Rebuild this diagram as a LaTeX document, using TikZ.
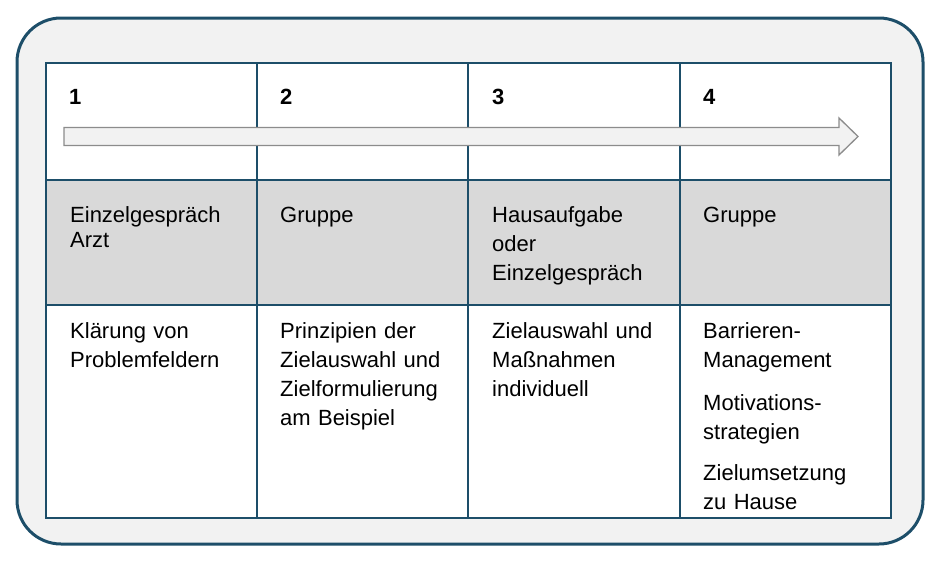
\documentclass[tikz,border=0pt]{standalone}
\usepackage{fontspec}
\setmainfont{Liberation Sans}
\definecolor{frameblue}{HTML}{1D4E69}
\definecolor{panelgray}{HTML}{F2F2F2}
\definecolor{rowgray}{HTML}{D9D9D9}
\definecolor{arrowline}{HTML}{8C8C8C}
\begin{document}
\begin{tikzpicture}[x=1pt,y=-1pt,
  gridline/.style={draw=frameblue, line width=2.6pt},
  celltext/.style={anchor=base west, inner sep=0pt, text width=190pt, align=left,
    font=\fontsize{22}{29}\selectfont},
  numtext/.style={anchor=base west, inner sep=0pt, font=\fontsize{22}{29}\selectfont\bfseries},
  bigarrow/.style={draw=arrowline, fill=panelgray, line width=1.3pt, line join=miter}]
\useasboundingbox (0,0) rectangle (945,562);
% outer panel
\draw[draw=frameblue, fill=panelgray, line width=3pt, rounded corners=44pt] (17,18) rectangle (923,544);
% table
\fill[white] (46,63) rectangle (891,518);
\fill[rowgray] (46,180) rectangle (891,305);
\draw[gridline] (46,63) rectangle (891,518);
\draw[gridline] (46,180) -- (891,180);
\draw[gridline] (46,305) -- (891,305);
\draw[gridline] (257,63) -- (257,518);
\draw[gridline] (468,63) -- (468,518);
\draw[gridline] (680,63) -- (680,518);
% arrow
\draw[bigarrow] (64,127.5) -- (839,127.5) -- (839,118) -- (858,136.5) -- (839,155) -- (839,145.5) -- (64,145.5) -- cycle;
% numbers
\node[numtext] (n1) at (69,104) {1};
\node[numtext] (n2) at (280,104) {2};
\node[numtext] (n3) at (492,104) {3};
\node[numtext] (n4) at (703,104) {4};
% row 2
\node[celltext, font=\fontsize{22}{25}\selectfont] (r21) at (70,222) {Einzelgespräch\\Arzt};
\node[celltext] (r22) at (280,222) {Gruppe};
\node[celltext] (r23) at (492,222) {Hausaufgabe\\oder\\Einzelgespräch};
\node[celltext] (r24) at (703,222) {Gruppe};
% row 3
\node[celltext] (r31) at (70,338) {Klärung von\\Problemfeldern};
\node[celltext] (r32) at (280,338) {Prinzipien der\\Zielauswahl und\\Zielformulierung\\am Beispiel};
\node[celltext] (r33) at (492,338) {Zielauswahl und\\Maßnahmen\\individuell};
\node[celltext] (r34a) at (703,338) {Barrieren-\\Management};
\node[celltext] (r34b) at (703,410) {Motivations-\\strategien};
\node[celltext] (r34c) at (703,480) {Zielumsetzung\\zu Hause};
\end{tikzpicture}
\end{document}
